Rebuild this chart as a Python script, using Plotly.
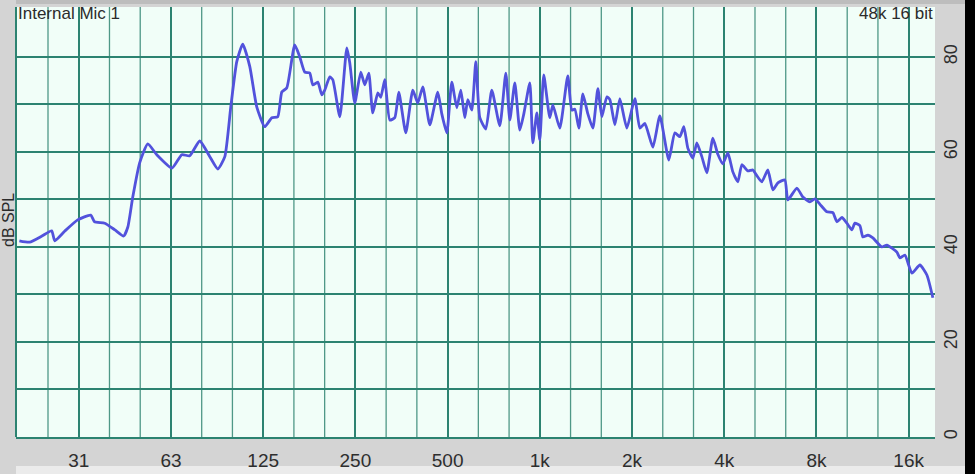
import math
import plotly.graph_objects as go

# ---- data (frequency in Hz, level in dB SPL) ----
freq_hz = [
    20.0, 21.6, 23.7, 25.5, 26.1, 28.1, 31.0, 34.2, 35.2, 38.0, 41.0, 43.8, 45.2, 46.9,
    49.4, 52.5, 56.2, 63.0, 67.8, 72.0, 77.6, 83.7, 88.9, 93.7, 98.0, 102.5, 107.2,
    113.0, 119.1, 126.5, 133.4, 139.5, 143.8, 149.3, 158.5, 164.6, 170.9, 177.4, 181.5,
    188.5, 194.2, 198.6, 206.2, 210.9, 222.4, 234.4, 239.7, 248.9, 260.3, 268.3, 276.5,
    284.9, 295.9, 302.6, 311.8, 323.8, 336.2, 346.4, 365.2, 384.9, 399.6, 415.0, 437.4,
    464.5, 478.7, 497.0, 516.0, 535.8, 552.2, 569.0, 582.0, 599.8, 618.1, 637.0, 666.3,
    697.0, 740.2, 774.5, 798.1, 828.7, 860.4, 886.7, 927.6, 948.8, 977.8, 1000, 1030,
    1078, 1103, 1162, 1234, 1272, 1301, 1341, 1382, 1435, 1490, 1547, 1594, 1655, 1693,
    1758, 1825, 1923, 2043, 2121, 2202, 2339, 2465, 2637, 2759, 2865, 2952, 3042, 3159,
    3255, 3380, 3509, 3672, 3812, 3958, 4110, 4267, 4431, 4566, 4777, 4959, 5110, 5306,
    5551, 5764, 5985, 6309, 6453, 6904, 7222, 7612, 7904, 8207, 8650, 9050, 9326, 9683,
    10054, 10439, 10678, 11086, 11340, 11774, 12224, 13080, 13582, 14642, 14976, 15550,
    16390, 17405, 18347, 19192,
]
level_db = [
    41.3, 41.0, 42.3, 43.4, 41.3, 43.3, 45.7, 46.7, 45.3, 45.0, 43.6, 42.3, 44.2, 50.5,
    57.7, 61.7, 59.4, 56.6, 59.4, 59.2, 62.3, 59.0, 56.4, 59.0, 69.5, 79.0, 82.7,
    78.0, 69.5, 65.3, 67.2, 67.4, 72.6, 73.5, 82.5, 80.0, 76.8, 76.6, 74.1,
    74.7, 72.0, 73.0, 75.8, 75.2, 67.4, 81.9, 78.7, 70.3, 76.8, 74.1, 76.6,
    68.2, 72.4, 71.5, 75.2, 66.7, 67.2, 72.6, 64.0, 73.0, 70.3, 73.7, 65.7,
    72.6, 68.0, 64.0, 74.7, 69.3, 73.0, 67.2, 71.0, 68.8, 79.0, 67.2, 64.8,
    73.0, 65.5, 76.6, 66.7, 74.5, 64.6, 68.0, 74.5, 61.9, 68.2, 62.5, 76.2,
    67.2, 69.9, 65.0, 76.0, 68.8, 69.0, 65.0, 72.2, 68.0, 65.0, 73.3, 67.4, 71.6, 71.0,
    65.7, 71.2, 65.0, 71.2, 65.0, 66.0, 61.0, 67.6, 58.3, 64.0, 63.2, 65.3, 60.8, 58.7,
    61.9, 59.0, 55.6, 62.9, 59.5, 57.5, 59.8, 55.8, 53.7, 57.3, 56.0, 56.2, 55.0, 53.7,
    56.2, 52.0, 53.5, 54.1, 49.9, 52.4, 50.5, 49.5, 50.1, 49.0, 47.4, 47.2, 45.3, 46.2,
    45.0, 43.6, 45.0, 44.5, 42.1, 42.5, 41.9, 40.0, 40.4, 38.9, 37.7, 38.3,
    34.5, 36.2, 34.1, 29.3,
]

octave_ticks = [31.25, 62.5, 125, 250, 500, 1000, 2000, 4000, 8000, 16000]
octave_labels = ["31", "63", "125", "250", "500", "1k", "2k", "4k", "8k", "16k"]
db_ticks = [0, 10, 20, 30, 40, 50, 60, 70, 80]
db_labels = ["0", "", "20", "", "40", "", "60", "", "80"]

title_left = "Internal Mic 1"
title_right = "48k 16 bit"
y_title = "dB SPL"

# third-octave grid positions (styling only)
third_octaves = [31.25 * 2 ** (k / 3) for k in range(-1, 28) if k % 3 != 0]

W, H = 975, 474
ML = 16                       # left margin, px
PLOT_X0, PLOT_X1 = 16, 935    # plot area, px
PLOT_Y0, PLOT_Y1 = 7, 437     # plot area top / bottom, px
paper_w = W - ML
paper_h = H

def px_x(px):
    return (px - ML) / paper_w

def px_y(py):
    return (H - py) / paper_h

FONT = "Liberation Sans, Arial, Helvetica, sans-serif"
GRID = "#2c8371"
GRID_MINOR = "#4f9887"

fig = go.Figure()
fig.add_trace(go.Scatter(
    x=freq_hz, y=level_db, mode="lines",
    line=dict(color="#5252dc", width=2.8, shape="spline", smoothing=0.5),
    hoverinfo="skip", showlegend=False,
))

shapes = [
    dict(type="rect", xref="paper", yref="paper",
         x0=0, x1=1, y0=px_y(4), y1=1,
         fillcolor="#bdbdbd", line=dict(width=0), layer="below"),
    dict(type="rect", xref="paper", yref="paper",
         x0=0, x1=1, y0=0, y1=px_y(466),
         fillcolor="#ebebeb", line=dict(width=0), layer="below"),
    dict(type="line", xref="paper", yref="paper",
         x0=px_x(PLOT_X0), x1=px_x(PLOT_X0),
         y0=px_y(PLOT_Y1), y1=px_y(PLOT_Y0),
         line=dict(color=GRID, width=2), layer="below"),
    dict(type="rect", xref="paper", yref="paper",
         x0=px_x(965), x1=1, y0=0, y1=1,
         fillcolor="#000000", line=dict(width=0), layer="above"),
]
for f in third_octaves:
    shapes.append(dict(type="line", xref="x", yref="paper",
                       x0=f, x1=f, y0=px_y(PLOT_Y1), y1=px_y(PLOT_Y0),
                       line=dict(color=GRID_MINOR, width=1.3), layer="below"))

fig.update_layout(
    width=W, height=H,
    margin=dict(l=ML, r=0, t=0, b=0, autoexpand=False),
    paper_bgcolor="#d4d4d4",
    plot_bgcolor="#f1fef8",
    showlegend=False,
    font=dict(family=FONT, color="#2b2b2b"),
    xaxis=dict(
        type="log",
        domain=[px_x(PLOT_X0), px_x(PLOT_X1)],
        range=[math.log10(19.5), math.log10(19500)],
        tickmode="array", tickvals=octave_ticks, ticktext=octave_labels,
        showgrid=True, gridcolor=GRID, gridwidth=2,
        ticks="", tickfont=dict(size=19, color="#2e2e2e", family=FONT),
        ticklabelstandoff=5,
        showline=True, linecolor=GRID, linewidth=2,
        zeroline=False,
    ),
    yaxis=dict(
        side="right",
        domain=[px_y(PLOT_Y1), px_y(PLOT_Y0)],
        range=[0, 90.5],
        tickmode="array", tickvals=db_ticks, ticktext=db_labels,
        tickangle=-90,
        showgrid=True, gridcolor=GRID, gridwidth=2,
        ticks="", tickfont=dict(size=18, color="#2e2e2e", family=FONT),
        ticklabelstandoff=3,
        zeroline=False, showline=False,
    ),
    shapes=shapes,
    annotations=[
        dict(text=title_left, xref="paper", yref="paper",
             x=px_x(16), y=px_y(14), xanchor="left", yanchor="middle",
             showarrow=False, font=dict(size=17, color="#2b2b2b", family=FONT)),
        dict(text=title_right, xref="paper", yref="paper",
             x=px_x(935), y=px_y(14), xanchor="right", yanchor="middle",
             showarrow=False, font=dict(size=17, color="#2b2b2b", family=FONT)),
        dict(text=y_title, xref="paper", yref="paper",
             x=px_x(8), y=px_y(220), xanchor="center", yanchor="middle",
             textangle=-90, showarrow=False,
             font=dict(size=16, color="#2b2b2b", family=FONT)),
    ],
)

fig.write_html(
    "out.html",
    config={"displayModeBar": False},
    post_script="document.body.style.margin='0';document.body.style.overflow='hidden';",
)
